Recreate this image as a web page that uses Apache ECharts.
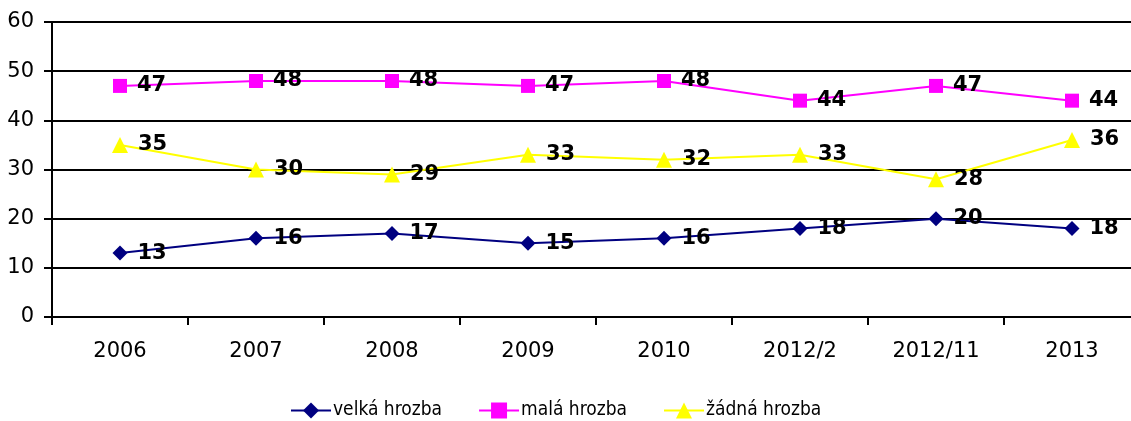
<!DOCTYPE html>
<html>
<head>
<meta charset="utf-8">
<script src="https://cdn.jsdelivr.net/npm/echarts@6/dist/echarts.min.js"></script>
<style>
  html, body { margin: 0; padding: 0; background: #fff; overflow: hidden; }
  #chart { width: 1131px; height: 421px; }
</style>
</head>
<body>
<div id="chart"></div>
<script>
const years = ["2006", "2007", "2008", "2009", "2010", "2012/2", "2012/11", "2013"];
const velka = [13, 16, 17, 15, 16, 18, 20, 18];
const mala = [47, 48, 48, 47, 48, 44, 47, 44];
const zadna = [35, 30, 29, 33, 32, 33, 28, 36];

const font = "'DejaVu Sans', Verdana, sans-serif";

const mkSeries = (name, data, color, symbol, size) => ({
   type: "line",
   name: name,
   data: data,
   symbol: symbol,
   symbolSize: size,
   itemStyle: { color: color },
   lineStyle: { color: color, width: 2 },
   label: {
      show: true,
      position: "right",
      distance: 10,
      color: "#000",
      fontWeight: "bold",
      fontSize: 21,
      fontFamily: font
   },
   z: 3
});

const chart = echarts.init(document.getElementById("chart"));
chart.setOption({
   animation: false,
   grid: { left: 52, width: 1088, top: 22, height: 295, outerBoundsMode: "none", containLabel: false },
   xAxis: {
      type: "category",
      data: years,
      boundaryGap: true,
      axisLine: { lineStyle: { color: "#000", width: 2 } },
      axisTick: { show: true, length: 8, lineStyle: { color: "#000", width: 2 } },
      axisLabel: { color: "#000", fontSize: 21, fontFamily: font, margin: 24 }
   },
   yAxis: {
      type: "value",
      min: 0,
      max: 60,
      interval: 10,
      axisLine: { show: true, lineStyle: { color: "#000", width: 2 } },
      axisTick: { show: true, length: 8, lineStyle: { color: "#000", width: 2 } },
      splitLine: { lineStyle: { color: "#000", width: 2 } },
      axisLabel: { color: "#000", fontSize: 21, fontFamily: font, margin: 18 }
   },
   legend: {
      top: 396,
      left: 285,
      itemGap: 36,
      itemWidth: 40,
      itemHeight: 20,
      textStyle: { color: "#000", fontSize: 19, fontFamily: "'DejaVu Sans Condensed', sans-serif", padding: [0, 0, 0, -3] },
      data: ["velká hrozba", "malá hrozba", "žádná hrozba"]
   },
   series: [
      mkSeries("velká hrozba", velka, "#000080", "diamond", 15),
      mkSeries("malá hrozba", mala, "#FF00FF", "rect", 14),
      mkSeries("žádná hrozba", zadna, "#FFFF00", "triangle", 16)
   ]
});
</script>
</body>
</html>
